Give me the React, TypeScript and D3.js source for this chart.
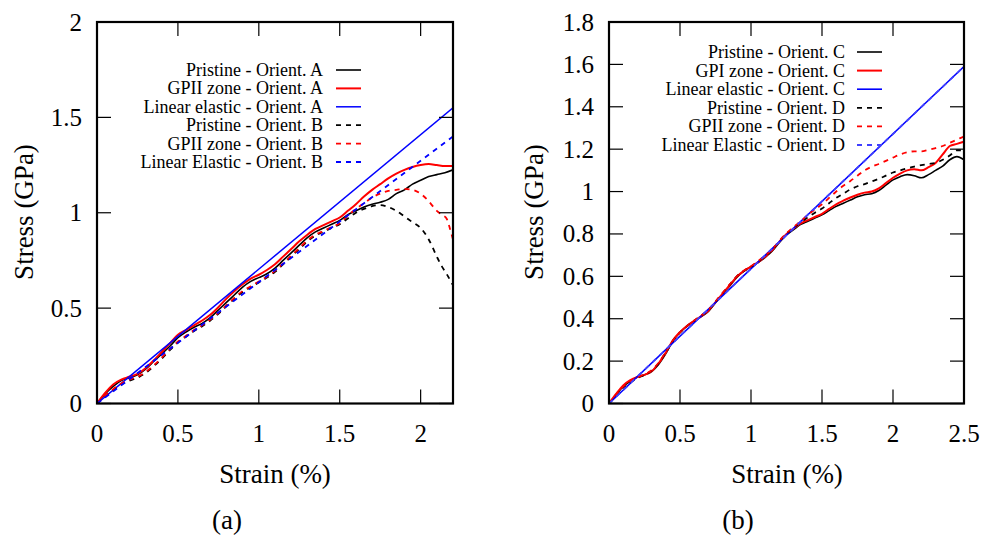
import React from "react";
import * as d3 from "d3";

type P = [number, number];

// ---------- Panel (a) ----------
const aXTicks = [0, 0.5, 1, 1.5, 2];
const aYTicks = [0, 0.5, 1, 1.5, 2];
const aXTickLabels = ["0", "0.5", "1", "1.5", "2"];
const aYTickLabels = ["0", "0.5", "1", "1.5", "2"];

const pristineA: P[] = [[0,0],[0.05,0.05],[0.1,0.09],[0.15,0.12],[0.2,0.135],[0.25,0.15],[0.3,0.18],[0.35,0.22],[0.4,0.26],[0.45,0.30],[0.5,0.345],[0.55,0.375],[0.6,0.40],[0.65,0.42],[0.7,0.45],[0.75,0.49],[0.8,0.53],[0.85,0.57],[0.9,0.61],[0.95,0.64],[1.0,0.66],[1.05,0.68],[1.1,0.71],[1.15,0.75],[1.2,0.79],[1.25,0.83],[1.3,0.87],[1.35,0.90],[1.4,0.92],[1.45,0.94],[1.5,0.96],[1.55,0.99],[1.6,1.01],[1.65,1.03],[1.7,1.045],[1.75,1.055],[1.8,1.07],[1.85,1.10],[1.9,1.12],[1.95,1.15],[2.0,1.17],[2.05,1.19],[2.1,1.20],[2.15,1.21],[2.2,1.225]];
const gpiiA: P[] = [[0,0],[0.05,0.055],[0.1,0.10],[0.15,0.125],[0.2,0.14],[0.25,0.155],[0.3,0.185],[0.35,0.225],[0.4,0.27],[0.45,0.315],[0.5,0.36],[0.55,0.385],[0.6,0.41],[0.65,0.435],[0.7,0.465],[0.75,0.505],[0.8,0.55],[0.85,0.59],[0.9,0.625],[0.95,0.655],[1.0,0.675],[1.05,0.70],[1.1,0.73],[1.15,0.77],[1.2,0.81],[1.25,0.85],[1.3,0.885],[1.35,0.915],[1.4,0.935],[1.45,0.955],[1.5,0.975],[1.55,1.01],[1.6,1.045],[1.65,1.085],[1.7,1.12],[1.75,1.15],[1.8,1.18],[1.85,1.205],[1.9,1.225],[1.95,1.24],[2.0,1.25],[2.05,1.255],[2.1,1.25],[2.15,1.245],[2.2,1.245]];
const linearA: P[] = [[0,0],[2.2,1.55]];
const pristineB: P[] = [[0,0],[0.05,0.035],[0.1,0.07],[0.15,0.10],[0.2,0.12],[0.25,0.135],[0.3,0.16],[0.35,0.195],[0.4,0.235],[0.45,0.28],[0.5,0.32],[0.55,0.35],[0.6,0.38],[0.65,0.405],[0.7,0.435],[0.75,0.47],[0.8,0.51],[0.85,0.55],[0.9,0.585],[0.95,0.61],[1.0,0.635],[1.05,0.66],[1.1,0.69],[1.15,0.73],[1.2,0.77],[1.25,0.81],[1.3,0.85],[1.35,0.88],[1.4,0.90],[1.45,0.92],[1.5,0.94],[1.55,0.97],[1.6,1.00],[1.65,1.02],[1.7,1.035],[1.75,1.04],[1.8,1.03],[1.85,1.01],[1.9,0.98],[1.95,0.95],[2.0,0.92],[2.05,0.86],[2.1,0.77],[2.13,0.72],[2.16,0.68],[2.2,0.62]];
const gpiiB: P[] = [[0,0],[0.05,0.04],[0.1,0.075],[0.15,0.105],[0.2,0.125],[0.25,0.14],[0.3,0.165],[0.35,0.20],[0.4,0.24],[0.45,0.285],[0.5,0.325],[0.55,0.355],[0.6,0.385],[0.65,0.41],[0.7,0.44],[0.75,0.475],[0.8,0.515],[0.85,0.555],[0.9,0.59],[0.95,0.615],[1.0,0.64],[1.05,0.665],[1.1,0.695],[1.15,0.735],[1.2,0.775],[1.25,0.815],[1.3,0.855],[1.35,0.885],[1.4,0.905],[1.45,0.925],[1.5,0.945],[1.55,0.985],[1.6,1.02],[1.65,1.05],[1.7,1.08],[1.75,1.10],[1.8,1.115],[1.85,1.12],[1.9,1.125],[1.95,1.12],[2.0,1.10],[2.05,1.06],[2.1,1.01],[2.13,0.99],[2.16,0.97],[2.18,0.92],[2.2,0.86]];
const linearB: P[] = [[0,0],[2.2,1.40]];

const aLabels = ["Pristine - Orient. A", "GPII zone - Orient. A", "Linear elastic - Orient. A", "Pristine - Orient. B", "GPII zone - Orient. B", "Linear Elastic - Orient. B"];

// ---------- Panel (b) ----------
const bXTicks = [0, 0.5, 1, 1.5, 2, 2.5];
const bYTicks = [0, 0.2, 0.4, 0.6, 0.8, 1, 1.2, 1.4, 1.6, 1.8];
const bXTickLabels = ["0", "0.5", "1", "1.5", "2", "2.5"];
const bYTickLabels = ["0", "0.2", "0.4", "0.6", "0.8", "1", "1.2", "1.4", "1.6", "1.8"];

const pristineC: P[] = [[0,0],[0.05,0.04],[0.1,0.08],[0.15,0.105],[0.2,0.125],[0.25,0.135],[0.3,0.15],[0.35,0.185],[0.4,0.235],[0.45,0.295],[0.5,0.335],[0.55,0.365],[0.6,0.39],[0.65,0.41],[0.7,0.435],[0.75,0.475],[0.8,0.515],[0.85,0.555],[0.9,0.595],[0.95,0.625],[1.0,0.645],[1.05,0.665],[1.1,0.69],[1.15,0.72],[1.2,0.76],[1.25,0.795],[1.3,0.82],[1.35,0.845],[1.4,0.86],[1.45,0.875],[1.5,0.89],[1.55,0.91],[1.6,0.93],[1.65,0.945],[1.7,0.96],[1.75,0.975],[1.8,0.985],[1.85,0.99],[1.9,1.005],[1.95,1.03],[2.0,1.055],[2.05,1.07],[2.1,1.08],[2.15,1.075],[2.2,1.065],[2.25,1.08],[2.3,1.10],[2.35,1.12],[2.4,1.15],[2.45,1.165],[2.5,1.15]];
const gpiC: P[] = [[0,0],[0.05,0.045],[0.1,0.085],[0.15,0.11],[0.2,0.125],[0.25,0.135],[0.3,0.152],[0.35,0.19],[0.4,0.24],[0.45,0.298],[0.5,0.337],[0.55,0.367],[0.6,0.39],[0.65,0.412],[0.7,0.438],[0.75,0.478],[0.8,0.518],[0.85,0.558],[0.9,0.598],[0.95,0.626],[1.0,0.646],[1.05,0.667],[1.1,0.693],[1.15,0.724],[1.2,0.764],[1.25,0.80],[1.3,0.826],[1.35,0.85],[1.4,0.865],[1.45,0.88],[1.5,0.895],[1.55,0.918],[1.6,0.94],[1.65,0.957],[1.7,0.972],[1.75,0.985],[1.8,0.995],[1.85,1.0],[1.9,1.015],[1.95,1.04],[2.0,1.065],[2.05,1.085],[2.1,1.10],[2.15,1.105],[2.2,1.10],[2.25,1.115],[2.3,1.135],[2.35,1.175],[2.4,1.215],[2.45,1.225],[2.5,1.235]];
const linearC: P[] = [[0,0],[2.5,1.59]];
const pristineD: P[] = [[0,0],[0.05,0.038],[0.1,0.075],[0.15,0.10],[0.2,0.12],[0.25,0.135],[0.3,0.155],[0.35,0.19],[0.4,0.24],[0.45,0.295],[0.5,0.335],[0.55,0.365],[0.6,0.39],[0.65,0.415],[0.7,0.44],[0.75,0.48],[0.8,0.52],[0.85,0.56],[0.9,0.60],[0.95,0.625],[1.0,0.645],[1.05,0.67],[1.1,0.695],[1.15,0.725],[1.2,0.765],[1.25,0.80],[1.3,0.83],[1.35,0.855],[1.4,0.878],[1.45,0.90],[1.5,0.92],[1.55,0.945],[1.6,0.97],[1.65,0.99],[1.7,1.01],[1.75,1.025],[1.8,1.035],[1.85,1.048],[1.9,1.06],[1.95,1.075],[2.0,1.09],[2.05,1.10],[2.1,1.11],[2.15,1.118],[2.2,1.125],[2.25,1.13],[2.3,1.135],[2.35,1.15],[2.4,1.17],[2.45,1.195],[2.5,1.195]];
const gpiiD: P[] = [[0,0],[0.05,0.042],[0.1,0.08],[0.15,0.105],[0.2,0.123],[0.25,0.137],[0.3,0.157],[0.35,0.193],[0.4,0.243],[0.45,0.297],[0.5,0.336],[0.55,0.366],[0.6,0.392],[0.65,0.416],[0.7,0.442],[0.75,0.482],[0.8,0.522],[0.85,0.562],[0.9,0.60],[0.95,0.627],[1.0,0.648],[1.05,0.672],[1.1,0.698],[1.15,0.728],[1.2,0.768],[1.25,0.803],[1.3,0.833],[1.35,0.86],[1.4,0.89],[1.45,0.915],[1.5,0.94],[1.55,0.97],[1.6,1.00],[1.65,1.027],[1.7,1.05],[1.75,1.075],[1.8,1.10],[1.85,1.117],[1.9,1.13],[1.95,1.145],[2.0,1.16],[2.05,1.175],[2.1,1.185],[2.15,1.19],[2.2,1.19],[2.25,1.197],[2.3,1.205],[2.35,1.215],[2.4,1.23],[2.45,1.245],[2.5,1.26]];
const linearD: P[] = [[0,0],[2.5,1.59]];

const bLabels = ["Pristine - Orient. C", "GPI zone - Orient. C", "Linear elastic - Orient. C", "Pristine - Orient. D", "GPII zone - Orient. D", "Linear Elastic - Orient. D"];

const FONT = '"Liberation Serif", "DejaVu Serif", "Times New Roman", Tinos, Times, serif';

type Series = { data: P[]; color: string; width: number; dash?: string };

type PanelProps = {
  id: string;
  left: number; right: number; top: number; bottom: number;
  xMax: number; yMax: number;
  xTicks: number[]; yTicks: number[]; xTickLabels: string[]; yTickLabels: string[];
  series: Series[]; labels: string[];
  legendTextX: number; legendLineX0: number; legendLineX1: number; legendY0: number; legendDy: number;
  yTitleX: number; xTitleX: number; caption: string; captionX: number;
};

function Panel(p: PanelProps) {
  const x = d3.scaleLinear().domain([0, p.xMax]).range([p.left, p.right]);
  const y = d3.scaleLinear().domain([0, p.yMax]).range([p.bottom, p.top]);
  const line = d3.line<P>().x(d => x(d[0])).y(d => y(d[1])).curve(d3.curveMonotoneX);
  const tl = 14;
  const tstyle = { fontFamily: FONT };
  return (
    <g>
      <defs>
        <clipPath id={p.id}>
          <rect x={p.left} y={p.top} width={p.right - p.left} height={p.bottom - p.top} />
        </clipPath>
      </defs>
      <g clipPath={`url(#${p.id})`}>
        {p.series.map((s, i) => (
          <path key={i} d={line(s.data) || ""} fill="none" stroke={s.color} strokeWidth={s.width} strokeDasharray={s.dash} />
        ))}
      </g>
      {p.xTicks.map((t, i) => (
        <g key={"xt" + i}>
          <line x1={x(t)} x2={x(t)} y1={p.bottom} y2={p.bottom - tl} stroke="#000" strokeWidth={1.2} />
          <line x1={x(t)} x2={x(t)} y1={p.top} y2={p.top + tl} stroke="#000" strokeWidth={1.2} />
          <text x={x(t)} y={433} textAnchor="middle" dominantBaseline="central" style={tstyle} fontSize={25}>{p.xTickLabels[i]}</text>
        </g>
      ))}
      {p.yTicks.map((t, i) => (
        <g key={"yt" + i}>
          <line x1={p.left} x2={p.left + tl} y1={y(t)} y2={y(t)} stroke="#000" strokeWidth={1.2} />
          <line x1={p.right} x2={p.right - tl} y1={y(t)} y2={y(t)} stroke="#000" strokeWidth={1.2} />
          <text x={p.left - 15} y={y(t)} textAnchor="end" dominantBaseline="central" style={tstyle} fontSize={25}>{p.yTickLabels[i]}</text>
        </g>
      ))}
      <rect x={p.left} y={p.top} width={p.right - p.left} height={p.bottom - p.top} fill="none" stroke="#000" strokeWidth={2.2} />
      {p.labels.map((lab, i) => {
        const ly = p.legendY0 + i * p.legendDy;
        const s = p.series[i];
        return (
          <g key={"lg" + i}>
            <text x={p.legendTextX} y={ly} textAnchor="end" dominantBaseline="central" style={tstyle} fontSize={18}>{lab}</text>
            <line x1={p.legendLineX0} x2={p.legendLineX1} y1={ly} y2={ly} stroke={s.color} strokeWidth={s.width} strokeDasharray={s.dash} />
          </g>
        );
      })}
      <text x={p.xTitleX} y={474} textAnchor="middle" dominantBaseline="central" style={tstyle} fontSize={27}>Strain (%)</text>
      <text transform={`translate(${p.yTitleX},212) rotate(-90)`} textAnchor="middle" dominantBaseline="central" style={tstyle} fontSize={27}>Stress (GPa)</text>
      <text x={p.captionX} y={520} textAnchor="middle" dominantBaseline="central" style={tstyle} fontSize={27}>{p.caption}</text>
    </g>
  );
}

export default function App() {
  const dash = "5,5";
  const aSeries: Series[] = [
    { data: pristineA, color: "#000000", width: 1.6 },
    { data: gpiiA, color: "#ff0000", width: 2 },
    { data: linearA, color: "#0000ff", width: 1.5 },
    { data: pristineB, color: "#000000", width: 1.8, dash },
    { data: gpiiB, color: "#ff0000", width: 1.8, dash },
    { data: linearB, color: "#0000ff", width: 1.8, dash },
  ];
  const bSeries: Series[] = [
    { data: pristineC, color: "#000000", width: 1.6 },
    { data: gpiC, color: "#ff0000", width: 2 },
    { data: linearC, color: "#0000ff", width: 1.6 },
    { data: pristineD, color: "#000000", width: 1.8, dash },
    { data: gpiiD, color: "#ff0000", width: 1.8, dash },
    { data: linearD, color: "#4040ff", width: 1.8, dash },
  ];
  return (
    <svg width={985} height={536} style={{ position: "absolute", left: 0, top: 0, background: "#fff" }}>
      <rect width={985} height={536} fill="#fff" />
      <Panel id="clipA" left={97} right={453} top={22} bottom={403.5} xMax={2.2} yMax={2}
        xTicks={aXTicks} yTicks={aYTicks} xTickLabels={aXTickLabels} yTickLabels={aYTickLabels}
        series={aSeries} labels={aLabels}
        legendTextX={323} legendLineX0={336} legendLineX1={361} legendY0={70} legendDy={18.4}
        yTitleX={24} xTitleX={275} caption="(a)" captionX={227} />
      <Panel id="clipB" left={609} right={964} top={22} bottom={403.5} xMax={2.5} yMax={1.8}
        xTicks={bXTicks} yTicks={bYTicks} xTickLabels={bXTickLabels} yTickLabels={bYTickLabels}
        series={bSeries} labels={bLabels}
        legendTextX={845} legendLineX0={857} legendLineX1={882} legendY0={52} legendDy={18.6}
        yTitleX={534} xTitleX={787} caption="(b)" captionX={738} />
    </svg>
  );
}
